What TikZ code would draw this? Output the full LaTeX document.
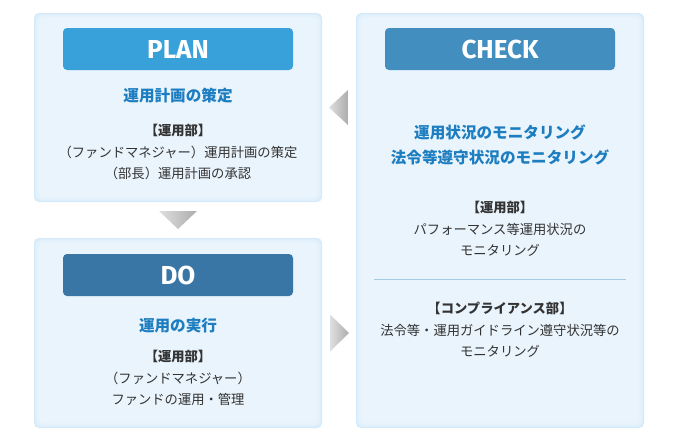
\documentclass[tikz,border=0pt]{standalone}
\usepackage{fontspec}
\setmainfont{Noto Sans CJK JP}
\newfontfamily\headfont{Fira Sans}
\usepackage{tikz}
\usetikzlibrary{calc, positioning}
\definecolor{panelfill}{HTML}{ECF6FE}
\definecolor{paneledge}{HTML}{D4EAFA}
\definecolor{planblue}{HTML}{38A1DA}
\definecolor{checkblue}{HTML}{428EBF}
\definecolor{doblue}{HTML}{3976A6}
\definecolor{titleblue}{HTML}{1C7DC0}
\definecolor{bodygray}{HTML}{333333}
\definecolor{rulegray}{HTML}{A3CBE3}

\begin{document}
\begin{tikzpicture}[x=1pt, y=-1pt,
  panel/.style={rounded corners=5pt, fill=paneledge, inner sep=0pt},
  head/.style={rounded corners=4pt, minimum width=230pt, minimum height=42pt,
               inner sep=0pt, text=white, font=\headfont\bfseries\fontsize{26}{26}\selectfont},
  title/.style={text=titleblue, align=center, font=\bfseries\fontsize{15.6}{25}\selectfont},
  body/.style={text=bodygray, align=center, font=\fontsize{13.3}{21.5}\selectfont},
  tri/.style={left color=gray!25, right color=gray!65, draw=none}]
  \useasboundingbox (0,0) rectangle (678,440);
  \fill[white] (0,0) rectangle (678,440);

  % Panels (soft inner glow approximated with nested fills)
  \node[panel, minimum width=288pt, minimum height=189pt] (plan) at (178,107.5) {};
  \node[panel, minimum width=288pt, minimum height=190pt] (do) at (178,333) {};
  \node[panel, minimum width=288pt, minimum height=415pt] (check) at (500,220.5) {};
  \foreach \p in {plan, do, check} {
    \foreach \i in {1,...,5} {
      \fill[panelfill, opacity=0.45, rounded corners=5pt]
        ($(\p.north west)+(\i*1.3,\i*1.3)$) rectangle ($(\p.south east)-(\i*1.3,\i*1.3)$);
    }
  }

  % Headers
  \node[head, fill=planblue] (planhead) at (178,49) {PLAN};
  \node[head, fill=checkblue] (checkhead) at (500,49) {CHECK};
  \node[head, fill=doblue] (dohead) at (178,275) {DO};

  % PLAN text
  \node[title] (plantitle) at (178,96) {運用計画の策定};
  \node[body] (planbody) at (178,152) {{\bfseries 【運用部】}\\
    （ファンドマネジャー）運用計画の策定\\（部長）運用計画の承認};

  % DO text
  \node[title] (dotitle) at (178,326) {運用の実行};
  \node[body] (dobody) at (178,378) {{\bfseries 【運用部】}\\
    （ファンドマネジャー）\\ファンドの運用・管理};

  % CHECK text
  \node[title] (checktitle) at (500,144.5) {運用状況のモニタリング\\法令等遵守状況のモニタリング};
  \node[body] (checkbody) at (500,229) {{\bfseries 【運用部】}\\
    パフォーマンス等運用状況の\\モニタリング};
  \coordinate (rulel) at (374,279);
  \coordinate (ruler) at (626,279);
  \draw[rulegray, line width=1pt] (rulel) -- (ruler);
  \node[body] (compbody) at (500,330) {{\bfseries 【コンプライアンス部】}\\
    法令等・運用ガイドライン遵守状況等の\\モニタリング};

  % Cycle arrows
  \coordinate (down) at ($(plan.south)!0.5!(do.north)$);
  \shade[tri] ($(down)+(-19,-9)$) -- ($(down)+(19,-9)$) -- ($(down)+(0,9)$) -- cycle;
  \coordinate (right) at ($(do.east)!0.5!(check.west |- do.east)$);
  \shade[tri] ($(right)+(-9,-18.5)$) -- ($(right)+(10,0)$) -- ($(right)+(-9,18.5)$) -- cycle;
  \coordinate (left) at ($(plan.east)!0.5!(check.west |- plan.east)$);
  \shade[tri] ($(left)+(9,-17.5)$) -- ($(left)+(-10,0)$) -- ($(left)+(9,17.5)$) -- cycle;
\end{tikzpicture}
\end{document}
